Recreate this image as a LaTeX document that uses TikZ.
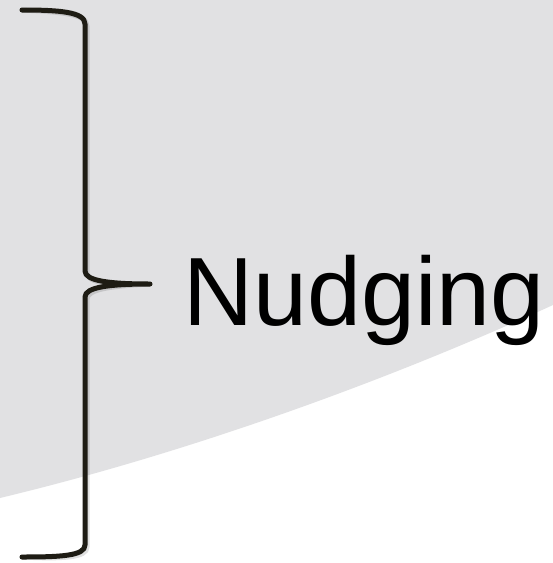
\documentclass[tikz,border=0pt]{standalone}
\usepackage{fontspec}
\setmainfont{Liberation Sans}
\usepackage{xcolor}
\usetikzlibrary{positioning}

\definecolor{bggray}{HTML}{E1E1E3}
\definecolor{braceink}{HTML}{1E1C14}

\begin{document}
\begin{tikzpicture}[x=1pt, y=-1pt, brace/.style={draw=braceink, line width=5pt, line cap=round, line join=round}, label/.style={inner sep=0pt, font=\fontsize{97}{97}\selectfont}]
	\useasboundingbox (0,0) rectangle (553,563);
	% background
	\fill[white] (0,0) rectangle (553,563);
	\fill[bggray] (0,0) -- (553,0) -- (553,305) .. controls (400,375) and (200,450) .. (0,498) -- cycle;

	% brace
	\coordinate (top) at (22,10);
	\coordinate (tip) at (150,284);
	\coordinate (bot) at (22,557);
	\draw[brace, draw=black, opacity=0.12, shift={(2,2)}] (top) .. controls (60,10) and (85,12) .. (85,24) -- (85,271) .. controls (85,281) and (110,284) .. (tip)
		.. controls (110,284) and (85,287) .. (85,297) -- (85,545) .. controls (85,556) and (60,557) .. (bot);
	\draw[brace] (top) .. controls (60,10) and (85,12) .. (85,24) -- (85,271) .. controls (85,281) and (110,284) .. (tip)
		.. controls (110,284) and (85,287) .. (85,297) -- (85,545) .. controls (85,556) and (60,557) .. (bot);

	\node[label, anchor=base west] (nudge) at (183,325) {Nudging};
\end{tikzpicture}
\end{document}
